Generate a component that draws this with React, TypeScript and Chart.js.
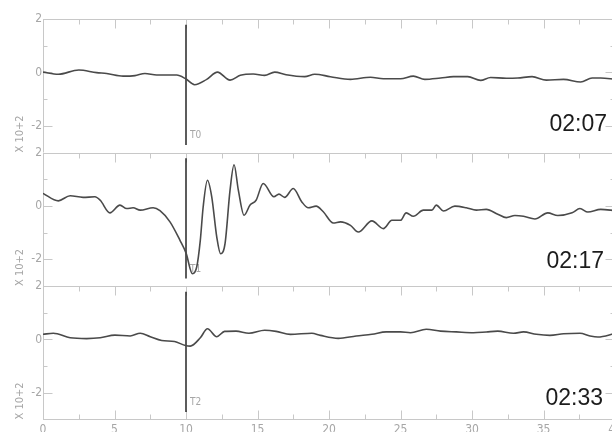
import React, { useEffect, useRef } from 'react';
import { Chart, registerables } from 'chart.js';

Chart.register(...registerables);

// ---------- data ----------
const p1X = [0, 1.07, 2.5, 3.75, 4.45, 5.6, 6.43, 7.13, 7.95, 9.35, 9.98, 10.6, 11.45, 12.2, 13.08, 13.8, 14.7, 15.5, 16.2, 17.0, 18.3, 19.0, 20.1, 21.5, 22.9, 23.8, 25.0, 25.9, 26.7, 27.8, 28.7, 29.7, 30.6, 31.3, 32.4, 33.2, 34.2, 35.2, 36.4, 37.6, 38.4, 39.0, 40.0];
const p1Y = [0.01, -0.07, 0.09, -0.01, -0.04, -0.14, -0.12, -0.04, -0.10, -0.10, -0.24, -0.46, -0.26, 0.01, -0.29, -0.11, -0.06, -0.11, 0.01, -0.09, -0.16, -0.07, -0.16, -0.26, -0.18, -0.24, -0.24, -0.14, -0.26, -0.21, -0.16, -0.16, -0.30, -0.19, -0.22, -0.21, -0.16, -0.29, -0.26, -0.36, -0.21, -0.21, -0.26];

const p2X = [0, 1.07, 1.9, 2.8, 3.63, 4.0, 4.68, 5.38, 5.85, 6.3, 6.8, 7.7, 8.18, 8.88, 9.58, 10.0, 10.45, 10.75, 11.0, 11.2, 11.5, 11.8, 12.15, 12.42, 12.73, 13.08, 13.36, 13.66, 14.06, 14.48, 14.9, 15.4, 16.15, 16.5, 16.9, 17.5, 18.1, 18.55, 19.1, 19.6, 20.3, 20.8, 21.5, 22.05, 23.0, 23.8, 24.4, 25.0, 25.4, 25.9, 26.6, 27.2, 27.5, 28.0, 28.8, 29.6, 30.3, 31.0, 31.8, 32.4, 33.0, 33.6, 34.4, 35.3, 36.0, 37.0, 37.55, 38.1, 39.0, 40.0];
const p2Y = [0.47, 0.19, 0.38, 0.32, 0.34, 0.21, -0.26, 0.03, -0.10, -0.07, -0.16, -0.07, -0.18, -0.60, -1.29, -1.76, -2.54, -2.29, -1.29, -0.04, 0.96, 0.34, -1.16, -1.79, -1.41, 0.59, 1.54, 0.59, -0.35, 0.03, 0.21, 0.84, 0.34, 0.44, 0.32, 0.65, 0.15, -0.07, -0.01, -0.22, -0.64, -0.60, -0.73, -0.98, -0.56, -0.85, -0.54, -0.54, -0.26, -0.39, -0.16, -0.16, 0.03, -0.19, -0.01, -0.07, -0.16, -0.13, -0.31, -0.44, -0.36, -0.39, -0.49, -0.26, -0.36, -0.26, -0.10, -0.23, -0.13, -0.18];

const p3X = [0, 0.72, 1.9, 3.05, 4.0, 5.03, 6.1, 6.8, 7.5, 8.3, 9.2, 9.97, 10.3, 11.0, 11.5, 12.15, 12.7, 13.5, 14.4, 15.5, 16.3, 17.3, 18.8, 19.4, 20.65, 21.9, 23.0, 24.0, 25.0, 25.7, 26.8, 27.8, 28.9, 30.1, 31.0, 31.8, 32.9, 33.6, 34.5, 35.45, 36.4, 37.55, 38.25, 38.8, 40.0];
const p3Y = [0.19, 0.23, 0.06, 0.03, 0.06, 0.16, 0.13, 0.23, 0.10, -0.04, -0.08, -0.23, -0.25, 0.06, 0.40, 0.10, 0.30, 0.31, 0.23, 0.34, 0.30, 0.19, 0.23, 0.15, 0.04, 0.13, 0.19, 0.28, 0.28, 0.25, 0.38, 0.31, 0.28, 0.25, 0.28, 0.31, 0.23, 0.28, 0.19, 0.15, 0.21, 0.23, 0.13, 0.09, 0.22];

const panelTimes = ['02:07', '02:17', '02:33'];
const markerNames = ['T0', 'T1', 'T2'];
const markerTime = 10;
const xTickLabels = ['0', '5', '10', '15', '20', '25', '30', '35', '40'];
const yTickLabels = ['2', '0', '-2'];
const yTitle = 'X 10+2';

const seriesX = [p1X, p2X, p3X];
const seriesY = [p1Y, p2Y, p3Y];

// ---------- layout / style ----------
const X_MIN = 0;
const X_MAX = 40;
const Y_MIN = -3;
const Y_MAX = 2;
const axisIds = ['y0', 'y1', 'y2'];
const MARK_TOP = 1.78;
const MARK_BOTTOM = -2.72;
const timeAnchors = [
  { x: 39.44, y: -2.21 },
  { x: 39.23, y: -2.34 },
  { x: 39.16, y: -2.44 },
];
const markerLabelAnchor = { x: 10.28, y: -2.36 };

const AXIS = '#c8c8c8';
const LABEL = '#a6a6a6';
const CURVE = '#4a4a4a';
const MARK = '#262626';
const NARROW = "'Liberation Sans Narrow','DejaVu Sans Condensed','Roboto Condensed','Liberation Sans',sans-serif";

const decor = {
  id: 'decor',
  beforeDatasetsDraw(chart: any) {
    const { ctx, chartArea } = chart;
    const xs = chart.scales.x;
    const L = Math.round(chartArea.left) + 0.5;
    const R = Math.round(chartArea.right) - 0.5;
    const seg = (x1: number, y1: number, x2: number, y2: number) => {
      ctx.beginPath();
      ctx.moveTo(x1, y1);
      ctx.lineTo(x2, y2);
      ctx.stroke();
    };
    ctx.save();
    ctx.strokeStyle = AXIS;
    ctx.lineWidth = 1;
    axisIds.forEach((id, i) => {
      const ys = chart.scales[id];
      const top = Math.round(ys.getPixelForValue(Y_MAX)) + 0.5;
      const bot = ys.getPixelForValue(Y_MIN);
      seg(L - 0.5, top, R + 0.5, top);
      seg(L, top, L, bot);
      for (let k = 1; k < 16; k++) {
        const v = k * 2.5;
        const px = Math.round(xs.getPixelForValue(v)) + 0.5;
        seg(px, top, px, top + (k % 2 === 0 ? 9 : 5));
      }
      for (let v = -2; v <= 1; v++) {
        const py = Math.round(ys.getPixelForValue(v)) + 0.5;
        const len = v % 2 === 0 ? 9 : 4;
        seg(L, py, L + len, py);
        seg(R, py, R - len, py);
      }
      ctx.fillStyle = LABEL;
      ctx.font = `10px ${NARROW}`;
      ctx.textAlign = 'left';
      ctx.textBaseline = 'middle';
      ctx.fillText(markerNames[i], xs.getPixelForValue(markerLabelAnchor.x), ys.getPixelForValue(markerLabelAnchor.y));
    });
    const yb = chart.scales[axisIds[axisIds.length - 1]];
    const bot = Math.round(yb.getPixelForValue(Y_MIN)) - 0.5;
    seg(L - 0.5, bot, R + 0.5, bot);
    for (let k = 1; k < 16; k++) {
      const v = k * 2.5;
      const px = Math.round(xs.getPixelForValue(v)) + 0.5;
      seg(px, bot, px, bot - (k % 2 === 0 ? 9 : 5));
    }
    ctx.restore();
  },
  afterDatasetsDraw(chart: any) {
    const { ctx } = chart;
    const xs = chart.scales.x;
    ctx.save();
    ctx.fillStyle = '#1c1c1c';
    ctx.font = "23px 'Liberation Sans', Arial, sans-serif";
    ctx.textAlign = 'right';
    ctx.textBaseline = 'alphabetic';
    axisIds.forEach((id, i) => {
      const ys = chart.scales[id];
      ctx.fillText(panelTimes[i], xs.getPixelForValue(timeAnchors[i].x), ys.getPixelForValue(timeAnchors[i].y));
    });
    ctx.restore();
  },
};

export default function App() {
  const ref = useRef<HTMLCanvasElement | null>(null);

  useEffect(() => {
    if (!ref.current) return;
    const datasets: any[] = [];
    axisIds.forEach((id, i) => {
      datasets.push({
        data: seriesX[i].map((x, j) => ({ x, y: seriesY[i][j] })),
        yAxisID: id,
        xAxisID: 'x',
        borderColor: CURVE,
        borderWidth: 1.6,
        pointRadius: 0,
        cubicInterpolationMode: 'monotone',
        fill: false,
      });
      datasets.push({
        data: [
          { x: markerTime, y: MARK_TOP },
          { x: markerTime, y: MARK_BOTTOM },
        ],
        yAxisID: id,
        xAxisID: 'x',
        borderColor: MARK,
        borderWidth: 1.5,
        pointRadius: 0,
        fill: false,
      });
    });

    const yScale = (weight: number) => ({
      type: 'linear',
      position: 'left',
      stack: 'panels',
      stackWeight: 1,
      weight,
      min: Y_MIN,
      max: Y_MAX,
      grid: { display: false, drawTicks: false },
      border: { display: false },
      ticks: {
        stepSize: 1,
        padding: 1,
        autoSkip: false,
        color: LABEL,
        font: { family: NARROW, size: 12 },
        callback: (v: number) => {
          const s = String(v);
          return yTickLabels.includes(s) ? s : '';
        },
      },
      title: {
        display: true,
        text: yTitle,
        align: 'start',
        color: LABEL,
        font: { family: NARROW, size: 11 },
        padding: { top: 14, bottom: 0 },
      },
      afterFit: (s: any) => {
        s.width = 43;
      },
    });

    const chart = new Chart(ref.current, {
      type: 'line',
      data: { datasets },
      options: {
        animation: false,
        responsive: false,
        events: [],
        layout: { padding: { top: 19, right: 25, left: 0, bottom: 0 } },
        plugins: { legend: { display: false }, tooltip: { enabled: false } },
        scales: {
          x: {
            type: 'linear',
            position: 'bottom',
            min: X_MIN,
            max: X_MAX,
            grid: { display: false, drawTicks: false },
            border: { display: false },
            ticks: {
              stepSize: 5,
              padding: 3,
              maxRotation: 0,
              autoSkip: false,
              color: LABEL,
              font: { family: NARROW, size: 12 },
              callback: (v: number) => {
                const s = String(v);
                return xTickLabels.includes(s) ? s : '';
              },
            },
            afterFit: (s: any) => {
              s.height = 20.5;
            },
          },
          y0: yScale(3),
          y1: yScale(2),
          y2: yScale(1),
        } as any,
      },
      plugins: [decor],
    } as any);
    return () => chart.destroy();
  }, []);

  return (
    <div style={{ position: 'fixed', left: 0, top: 0, width: 612, height: 432, overflow: 'hidden', background: '#fff' }}>
      <canvas ref={ref} width={640} height={440} style={{ width: 640, height: 440, display: 'block' }} />
    </div>
  );
}
